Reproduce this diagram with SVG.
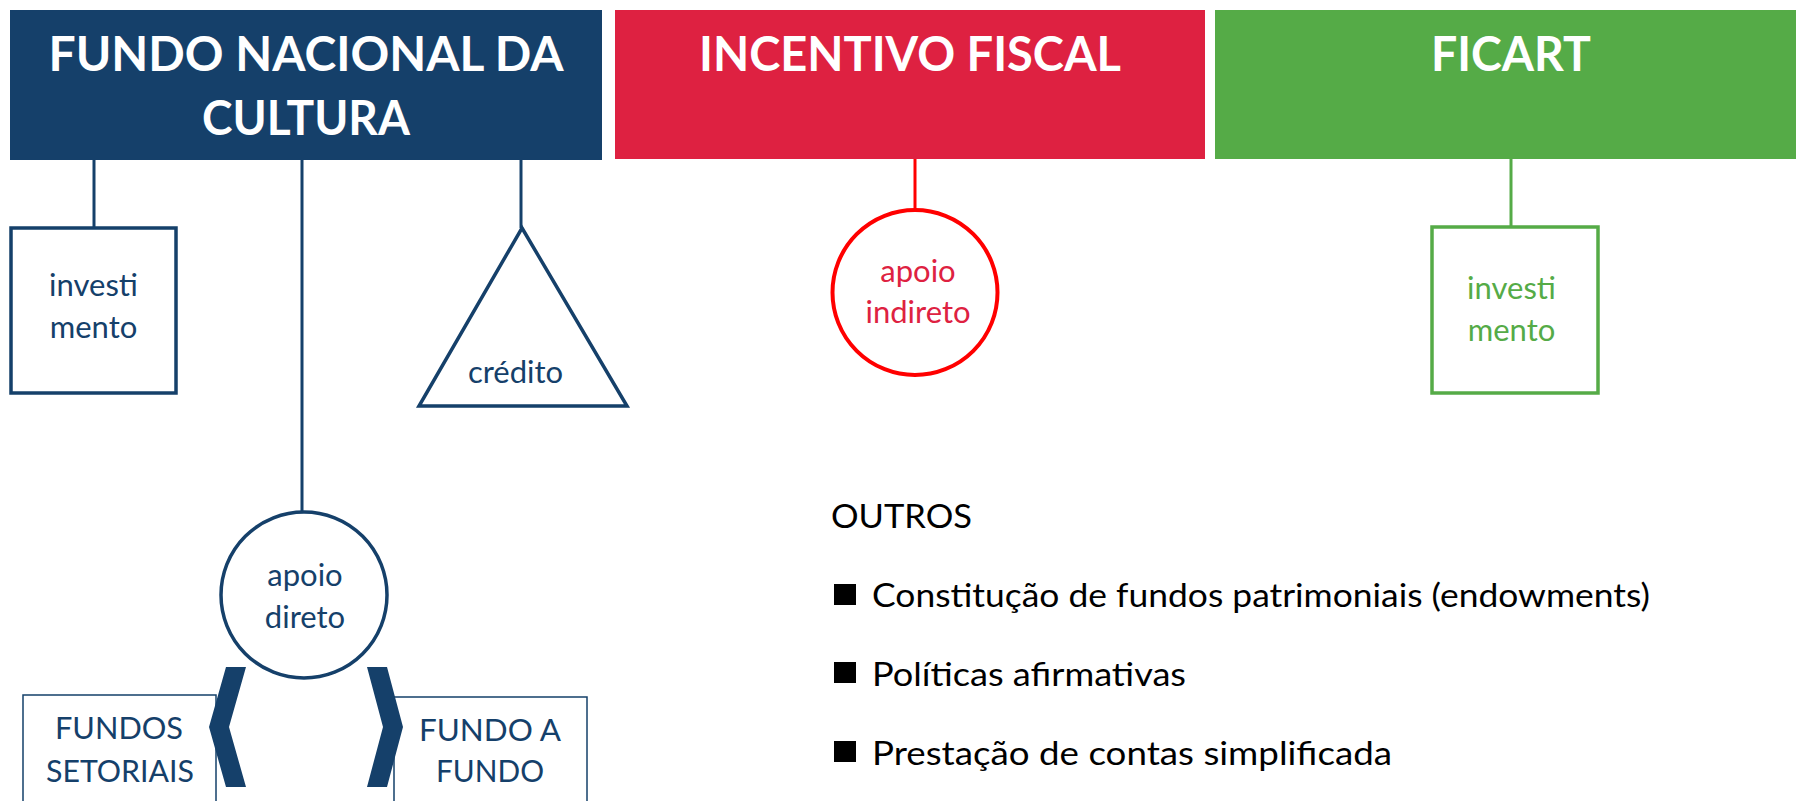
<svg xmlns="http://www.w3.org/2000/svg" width="1796" height="801" viewBox="0 0 1796 801">
<style>
.hd{font-family:Lato,"Open Sans","DejaVu Sans",sans-serif;font-weight:700;font-size:48px;fill:#fff;text-anchor:middle}
.lb{font-family:Lato,"Open Sans","DejaVu Sans",sans-serif;font-size:31px;text-anchor:middle}
.cap{font-family:Lato,"Open Sans","DejaVu Sans",sans-serif;font-size:30px;fill:#15406A;text-anchor:middle}
.tx{font-family:Lato,"Open Sans","DejaVu Sans",sans-serif;font-size:32px;fill:#000}
.blue{fill:#15406A}
.bs{stroke:#15406A;fill:#fff}
.cn line{stroke-width:3}
</style>
<rect width="1796" height="801" fill="#fff"/>
<g id="connectors" class="cn">
<line x1="94" y1="160" x2="94" y2="228" stroke="#15406A"/>
<line x1="302" y1="160" x2="302" y2="513" stroke="#15406A"/>
<line x1="521" y1="160" x2="521" y2="228" stroke="#15406A"/>
<line x1="915" y1="159" x2="915" y2="210" stroke="#FF0000"/>
<line x1="1511" y1="159" x2="1511" y2="227" stroke="#55AB47"/>
</g>
<g id="fnc">
<rect x="10" y="10" width="592" height="150" fill="#15406A"/>
<text class="hd" x="306" y="71" textLength="515" lengthAdjust="spacingAndGlyphs">FUNDO NACIONAL DA</text>
<text class="hd" x="306" y="135" textLength="208" lengthAdjust="spacingAndGlyphs">CULTURA</text>
</g>
<g id="incentivo">
<rect x="615" y="10" width="590" height="149" fill="#DE2141"/>
<text class="hd" x="910" y="71" textLength="422" lengthAdjust="spacingAndGlyphs">INCENTIVO FISCAL</text>
</g>
<g id="ficart">
<rect x="1215" y="10" width="581" height="149" fill="#55AB47"/>
<text class="hd" x="1511" y="71" textLength="160" lengthAdjust="spacingAndGlyphs">FICART</text>
</g>
<g id="investimento-fnc">
<rect x="11" y="228" width="165" height="165" class="bs" stroke-width="3.5"/>
<text class="lb blue" x="93.5" y="296">investi</text>
<text class="lb blue" x="93.5" y="338">mento</text>
</g>
<g id="credito">
<polygon points="522,228 627,406 419,406" class="bs" stroke-width="3.5" stroke-linejoin="miter"/>
<text class="lb blue" x="515.5" y="383">crédito</text>
</g>
<g id="apoio-indireto">
<circle cx="915" cy="292.5" r="82.5" fill="#fff" stroke="#FF0000" stroke-width="4"/>
<text class="lb" fill="#DE2141" x="918" y="282">apoio</text>
<text class="lb" fill="#DE2141" x="918" y="323">indireto</text>
</g>
<g id="investimento-ficart">
<rect x="1432" y="227" width="166" height="166" fill="#fff" stroke="#55AB47" stroke-width="3.5"/>
<text class="lb" fill="#55AB47" x="1511.5" y="299">investi</text>
<text class="lb" fill="#55AB47" x="1511.5" y="341">mento</text>
</g>
<g id="apoio-direto">
<circle cx="304" cy="595" r="83" class="bs" stroke-width="3.5"/>
<text class="lb blue" x="305" y="586">apoio</text>
<text class="lb blue" x="305" y="628">direto</text>
</g>
<g id="fundos-setoriais">
<rect x="23" y="695" width="193" height="120" fill="#fff" stroke="#15406A" stroke-width="1.5"/>
<text class="cap" x="119" y="739" textLength="128" lengthAdjust="spacingAndGlyphs">FUNDOS</text>
<text class="cap" x="120" y="782" textLength="148" lengthAdjust="spacingAndGlyphs">SETORIAIS</text>
</g>
<g id="fundo-a-fundo">
<rect x="394" y="697" width="193" height="120" fill="#fff" stroke="#15406A" stroke-width="1.5"/>
<text class="cap" x="490" y="741" textLength="142" lengthAdjust="spacingAndGlyphs">FUNDO A</text>
<text class="cap" x="490" y="782" textLength="108" lengthAdjust="spacingAndGlyphs">FUNDO</text>
</g>
<g id="chevrons">
<polygon points="226,667 246,667 229,727 246,787 226,787 209,727" fill="#15406A"/>
<polygon points="367,667 387,667 403,727 387,787 367,787 383,727" fill="#15406A"/>
</g>
<g id="outros">
<text class="tx" x="831" y="528" font-size="35" textLength="141" lengthAdjust="spacingAndGlyphs">OUTROS</text>
<rect x="834" y="584" width="22" height="21" fill="#000"/>
<text class="tx" x="872" y="607" textLength="778" lengthAdjust="spacingAndGlyphs">Constitução de fundos patrimoniais (endowments)</text>
<rect x="834" y="662" width="22" height="21" fill="#000"/>
<text class="tx" x="872" y="686" textLength="314" lengthAdjust="spacingAndGlyphs">Políticas afirmativas</text>
<rect x="834" y="741" width="22" height="21" fill="#000"/>
<text class="tx" x="872" y="765" textLength="520" lengthAdjust="spacingAndGlyphs">Prestação de contas simplificada</text>
</g>
</svg>
